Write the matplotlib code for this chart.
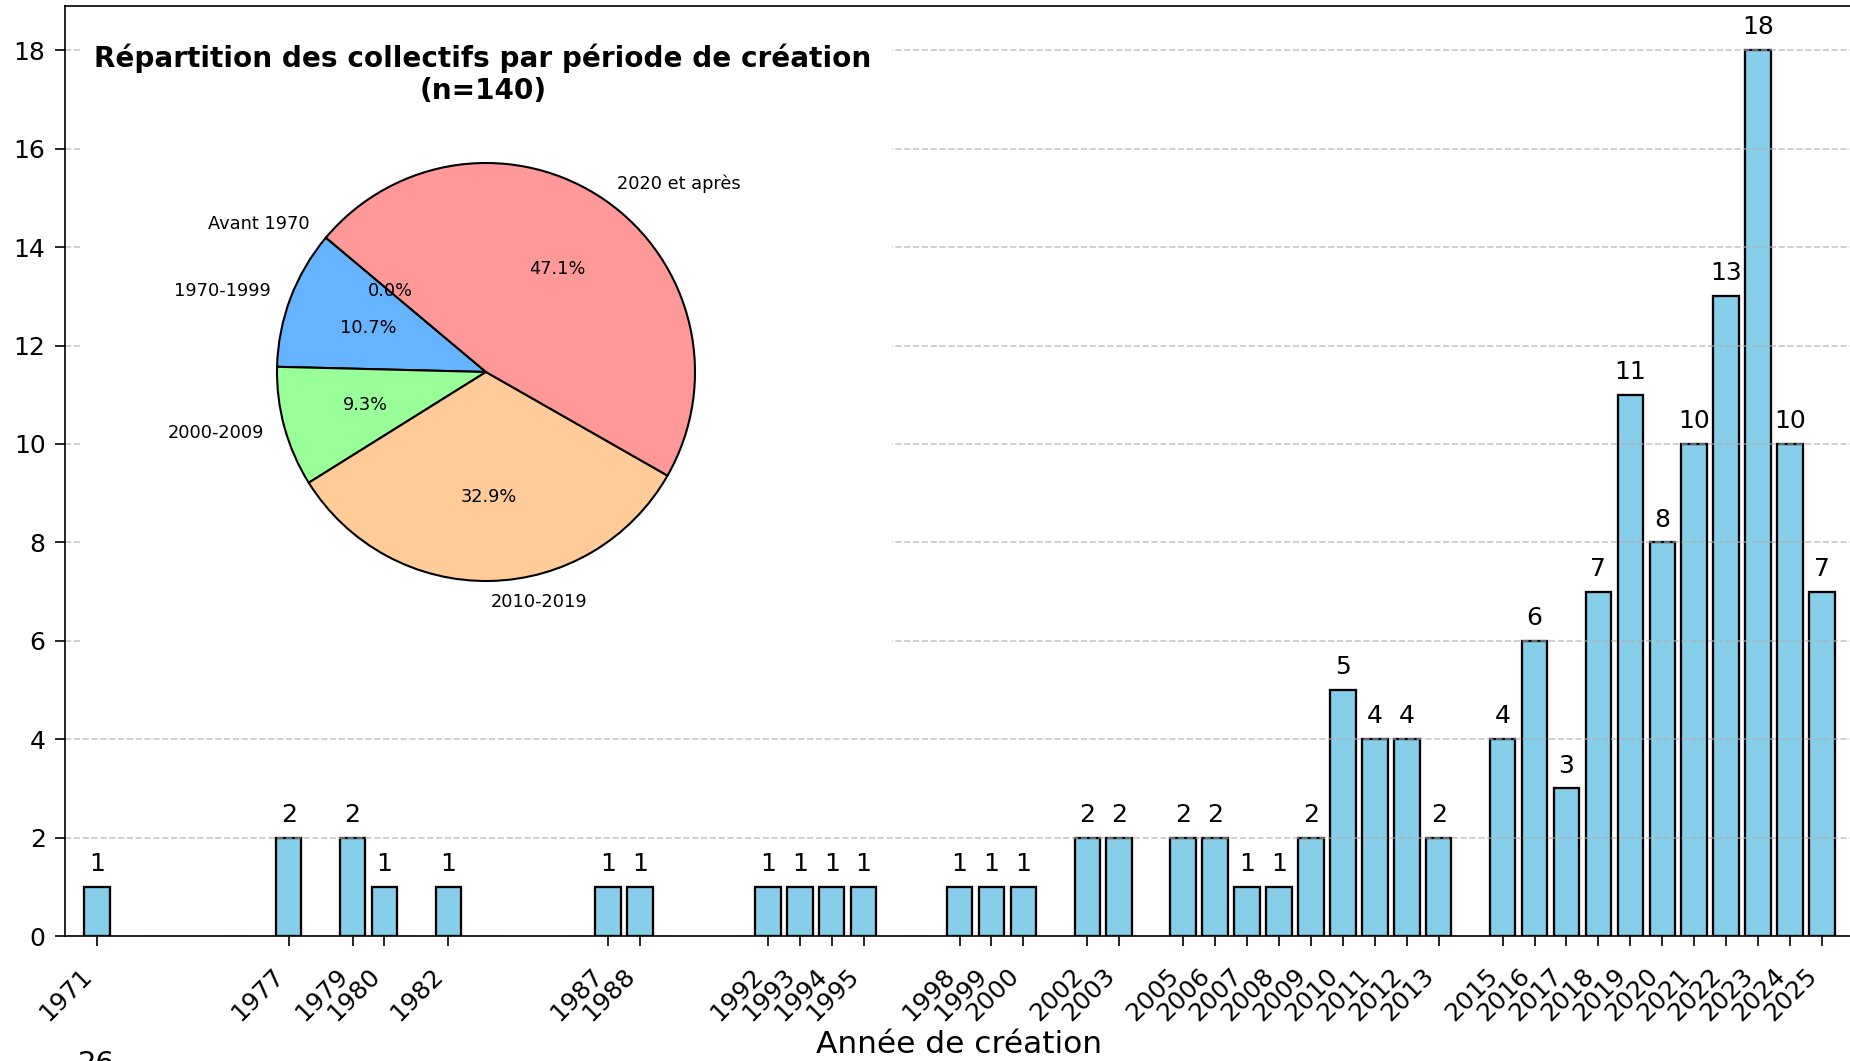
import matplotlib
matplotlib.use("Agg")
import matplotlib.pyplot as plt

# ---- data ----
years = [1971, 1977, 1979, 1980, 1982, 1987, 1988, 1992, 1993, 1994, 1995,
         1998, 1999, 2000, 2002, 2003, 2005, 2006, 2007, 2008, 2009, 2010,
         2011, 2012, 2013, 2015, 2016, 2017, 2018, 2019, 2020, 2021, 2022,
         2023, 2024, 2025]
counts = [1, 2, 2, 1, 1, 1, 1, 1, 1, 1, 1,
          1, 1, 1, 2, 2, 2, 2, 1, 1, 2, 5,
          4, 4, 2, 4, 6, 3, 7, 11, 8, 10, 13,
          18, 10, 7]
periods = ["Avant 1970", "1970-1999", "2000-2009", "2010-2019", "2020 et après"]
period_counts = [0, 15, 13, 46, 66]
pie_colors = ["#c2c2f0", "#66b3ff", "#99ff99", "#ffcc99", "#ff9999"]
title_text = "Répartition des collectifs par période de création\n(n=140)"
xlabel_text = "Année de création"

W, H, DPI = 1850, 1061, 150
fig = plt.figure(figsize=(W / DPI, H / DPI), dpi=DPI)

def fx(px):
    return px / W

def fy(py):
    return 1 - py / H

# ---- main bar axes ----
ax = fig.add_axes([fx(65), fy(936), fx(1854 - 65), (936 - 6) / H])
bars = ax.bar(years, counts, width=0.8, color="skyblue", edgecolor="black", linewidth=1.1)
for yr, c in zip(years, counts):
    ax.text(yr, c + 0.22, str(c), ha="center", va="bottom", fontsize=12)
ax.set_xlim(1970, 2026)
ax.set_xticks(years)
ax.set_xticklabels([str(y) for y in years], rotation=45, ha="right", fontsize=12)
ax.set_yticks(range(0, 19, 2))
ax.tick_params(axis="y", labelsize=12, length=4.8, pad=4.5)
ax.tick_params(axis="x", length=4.8, pad=8.5)
ax.grid(axis="y", linestyle="--", alpha=0.7)
ax.set_xlabel(xlabel_text, fontsize=15, labelpad=2)

# ---- pie inset (white box) ----
bx0, bx1, by0, by1 = 80, 892, 30, 714
axp = fig.add_axes([fx(bx0), fy(by1), fx(bx1 - bx0), (by1 - by0) / H])
axp.pie(period_counts, labels=periods, colors=pie_colors, autopct="%1.1f%%",
        startangle=140, wedgeprops={"edgecolor": "black", "linewidth": 1.0},
        textprops={"fontsize": 8.5})
axp.set_aspect("auto")
R = 209.0
cx, cy = 486, 372
axp.set_xlim(-(cx - bx0) / R, (bx1 - cx) / R)
axp.set_ylim(-(by1 - cy) / R, (cy - by0) / R)
axp.set_frame_on(True)
for s in axp.spines.values():
    s.set_visible(False)
axp.set_xticks([])
axp.set_yticks([])
axp.set_facecolor("white")

fig.text(fx(483), fy(74), title_text, ha="center", va="center",
         fontsize=13.4, fontweight="bold", multialignment="center")

# page number fragment at bottom of screenshot
fig.text(fx(78), fy(1072), "26", ha="left", va="baseline", fontsize=14)

fig.savefig("out.png", dpi=DPI)
